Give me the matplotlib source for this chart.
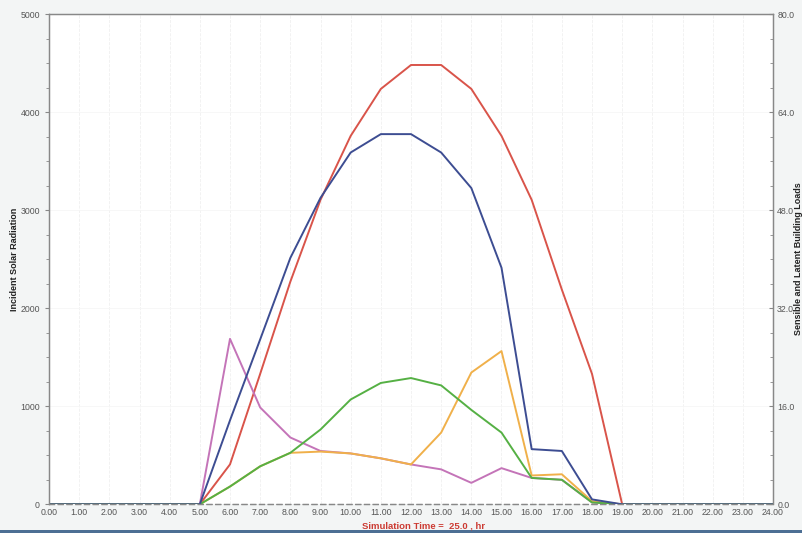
import matplotlib
matplotlib.use("Agg")
import matplotlib.pyplot as plt
from matplotlib.ticker import MultipleLocator
from matplotlib.patches import Rectangle

plt.rcParams["font.family"] = ["Liberation Sans", "DejaVu Sans"]

hours = list(range(0, 25))

# incident solar radiation (left axis)
solar = [0, 0, 0, 0, 0, 0, 407, 1330, 2270, 3105, 3757, 4236, 4480,
         4480, 4236, 3757, 3105, 2190, 1330, 0, 0, 0, 0, 0, 0]

# building loads (right axis)
load_blue = [0, 0, 0, 0, 0, 0, 13.7, 26.9, 40.2, 50.0, 57.4, 60.4, 60.4,
             57.4, 51.6, 38.6, 9.0, 8.7, 0.8, 0, 0, 0, 0, 0, 0]
load_green = [0, 0, 0, 0, 0, 0, 2.9, 6.2, 8.4, 12.2, 17.1, 19.8, 20.6,
              19.4, 15.4, 11.7, 4.3, 4.0, 0.3, 0, 0, 0, 0, 0, 0]
load_orange = [0, 0, 0, 0, 0, 0, 2.9, 6.2, 8.4, 8.6, 8.3, 7.5, 6.5,
               11.7, 21.5, 25.0, 4.7, 4.9, 0.5, 0, 0, 0, 0, 0, 0]
load_purple = [0, 0, 0, 0, 0, 0, 27.0, 15.8, 10.9, 8.7, 8.3, 7.5, 6.5,
               5.7, 3.5, 5.9, 4.3, 4.0, 0.3, 0, 0, 0, 0, 0, 0]

bg = "#f3f5f5"
fig = plt.figure(figsize=(8.03, 5.33), dpi=100, facecolor=bg)
ax = fig.add_axes([49/803, (533-504.3)/533, (773-49)/803, (504.3-14)/533])
ax.set_facecolor("white")

ax.plot(hours, solar, color="#d9544a", lw=1.4, zorder=3)
ax.set_xlim(0, 24)
ax.set_ylim(0, 5000)
ax.xaxis.set_major_locator(MultipleLocator(1))
ax.yaxis.set_major_locator(MultipleLocator(1000))
ax.yaxis.set_minor_locator(MultipleLocator(250))
ax.xaxis.set_major_formatter(lambda v, p: "%.2f" % v)
ax.grid(True, axis="x", color="#f0f0f0", lw=0.6, ls="--")
ax.grid(True, axis="y", color="#f6f6f6", lw=0.6)

ax2 = ax.twinx()
ax2.set_ylim(0, 80)
ax2.yaxis.set_major_locator(MultipleLocator(16))
ax2.yaxis.set_minor_locator(MultipleLocator(4))
ax2.yaxis.set_major_formatter(lambda v, p: "%.1f" % v)
ax2.plot(hours, load_purple, color="#c474b8", lw=1.4)
ax2.plot(hours, load_orange, color="#f0b04a", lw=1.4)
ax2.plot(hours, load_green, color="#55b044", lw=1.4)
ax2.plot(hours, load_blue, color="#3d4d92", lw=1.4)

for a in (ax, ax2):
    for s in a.spines.values():
        s.set_color("#888888")
        s.set_linewidth(0.9)
    a.spines["bottom"].set_linestyle((0, (4, 3)))
    a.tick_params(axis="both", which="both", colors="#888888", labelsize=6.3,
                  labelcolor="#555555", length=3)
    a.tick_params(axis="x", length=0, pad=3)
    a.tick_params(axis="y", which="minor", length=2)
ax2.tick_params(axis="y", which="both", direction="in", pad=3)

fig.text(15/803, (533-259)/533, "Incident Solar Radiation", rotation=90,
         ha="center", va="center", fontsize=6.5, fontweight="bold",
         color="#222222")
fig.text(1.0, (533-259)/533, "Sensible and Latent Building Loads",
         rotation=90, ha="right", va="center",
         fontsize=6.5, fontweight="bold", color="#222222")
fig.text(424/803, (533-526)/533, "Simulation Time =  25.0 , hr",
         ha="center", va="center", fontsize=6.8, fontweight="bold",
         color="#cc3b33")

fig.patches.append(Rectangle((0, 0), 1, 3/533, transform=fig.transFigure,
                             facecolor="#4d6f94", edgecolor="none"))

fig.savefig("out.png", dpi=100, facecolor=bg)
